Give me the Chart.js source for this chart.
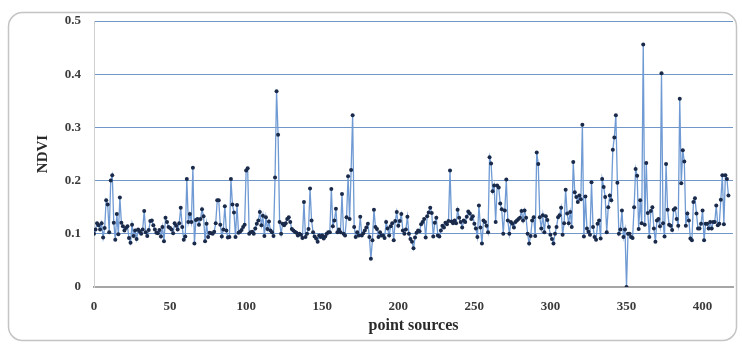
<!DOCTYPE html>
<html lang="en">
<head>
    <meta charset="UTF-8">
    <title>NDVI of point sources</title>
    <script src="https://cdn.jsdelivr.net/npm/chart.js"></script>
    <style>
        html, body { margin: 0; padding: 0; background: #fff; }
        #wrap { width: 742px; height: 344px; position: relative; }
    </style>
</head>
<body>
<div id="wrap">
    <canvas id="ndviChart"></canvas>
</div>
<script>
    // NDVI per point source (index = point source number)
    var ndvi = [
        0.100, 0.108, 0.120, 0.116, 0.108, 0.120, 0.093, 0.111, 0.163, 0.155,
        0.103, 0.200, 0.210, 0.121, 0.089, 0.137, 0.099, 0.168, 0.121, 0.114,
        0.106, 0.111, 0.114, 0.092, 0.083, 0.117, 0.096, 0.106, 0.090, 0.108,
        0.105, 0.100, 0.108, 0.143, 0.103, 0.096, 0.107, 0.124, 0.125, 0.116,
        0.108, 0.102, 0.101, 0.107, 0.095, 0.113, 0.086, 0.130, 0.122, 0.113,
        0.111, 0.108, 0.101, 0.120, 0.115, 0.108, 0.120, 0.149, 0.113, 0.089,
        0.095, 0.203, 0.122, 0.137, 0.122, 0.224, 0.082, 0.126, 0.128, 0.117,
        0.128, 0.146, 0.133, 0.086, 0.119, 0.094, 0.102, 0.101, 0.100, 0.104,
        0.120, 0.163, 0.163, 0.117, 0.095, 0.108, 0.152, 0.106, 0.093, 0.094,
        0.203, 0.155, 0.140, 0.094, 0.154, 0.102, 0.104, 0.107, 0.113, 0.117,
        0.219, 0.223, 0.100, 0.103, 0.104, 0.100, 0.110, 0.119, 0.125, 0.141,
        0.116, 0.134, 0.096, 0.131, 0.109, 0.123, 0.106, 0.103, 0.096, 0.206,
        0.368, 0.286, 0.122, 0.100, 0.119, 0.116, 0.120, 0.128, 0.131, 0.122,
        0.109, 0.106, 0.104, 0.102, 0.097, 0.100, 0.098, 0.092, 0.160, 0.094,
        0.100, 0.109, 0.185, 0.125, 0.103, 0.095, 0.091, 0.085, 0.097, 0.094,
        0.097, 0.091, 0.095, 0.100, 0.103, 0.103, 0.184, 0.114, 0.125, 0.147,
        0.103, 0.108, 0.103, 0.175, 0.100, 0.097, 0.131, 0.208, 0.128, 0.220,
        0.323, 0.113, 0.094, 0.103, 0.097, 0.132, 0.097, 0.101, 0.106, 0.112,
        0.119, 0.094, 0.053, 0.088, 0.145, 0.113, 0.109, 0.094, 0.103, 0.097,
        0.097, 0.092, 0.122, 0.110, 0.097, 0.114, 0.120, 0.088, 0.124, 0.141,
        0.115, 0.124, 0.137, 0.106, 0.100, 0.108, 0.132, 0.100, 0.090, 0.085,
        0.073, 0.093, 0.102, 0.106, 0.105, 0.118, 0.122, 0.128, 0.093, 0.133,
        0.140, 0.149, 0.139, 0.095, 0.121, 0.130, 0.097, 0.095, 0.106, 0.115,
        0.112, 0.121, 0.118, 0.124, 0.219, 0.123, 0.120, 0.125, 0.120, 0.145,
        0.130, 0.122, 0.112, 0.125, 0.122, 0.132, 0.142, 0.138, 0.128, 0.133,
        0.119, 0.110, 0.094, 0.153, 0.112, 0.082, 0.125, 0.122, 0.115, 0.103,
        0.244, 0.232, 0.180, 0.191, 0.122, 0.191, 0.187, 0.157, 0.146, 0.100,
        0.144, 0.202, 0.125, 0.100, 0.122, 0.119, 0.112, 0.122, 0.125, 0.128,
        0.130, 0.143, 0.125, 0.144, 0.130, 0.100, 0.082, 0.096, 0.125, 0.131,
        0.096, 0.253, 0.231, 0.131, 0.110, 0.135, 0.103, 0.133, 0.126, 0.113,
        0.098, 0.090, 0.082, 0.100, 0.113, 0.131, 0.135, 0.149, 0.098, 0.120,
        0.183, 0.138, 0.120, 0.141, 0.113, 0.235, 0.178, 0.169, 0.160, 0.172,
        0.165, 0.305, 0.095, 0.170, 0.110, 0.104, 0.098, 0.197, 0.113, 0.094,
        0.089, 0.119, 0.125, 0.091, 0.203, 0.188, 0.169, 0.103, 0.150, 0.172,
        0.163, 0.258, 0.281, 0.323, 0.196, 0.100, 0.108, 0.144, 0.094, 0.108,
        0.000, 0.100, 0.100, 0.094, 0.092, 0.150, 0.222, 0.209, 0.109, 0.163,
        0.120, 0.456, 0.117, 0.233, 0.139, 0.094, 0.143, 0.150, 0.110, 0.085,
        0.125, 0.128, 0.114, 0.402, 0.120, 0.095, 0.231, 0.145, 0.117, 0.115,
        0.107, 0.145, 0.148, 0.128, 0.115, 0.354, 0.195, 0.257, 0.236, 0.115,
        0.138, 0.125, 0.091, 0.088, 0.160, 0.167, 0.138, 0.110, 0.110, 0.119,
        0.144, 0.088, 0.119, 0.119, 0.110, 0.122, 0.110, 0.122, 0.122, 0.153,
        0.116, 0.119, 0.164, 0.210, 0.118, 0.210, 0.203, 0.172
    ];
    var xMax = 420;
    var xStep = 50;
    var yMax = 0.5;
    var yStep = 0.1;

    var points = [];
    for (var i = 0; i < ndvi.length; i++) {
        points.push({x: i, y: ndvi[i]});
    }

    var serif = "'Liberation Serif', 'Times New Roman', serif";

    // rounded frame round the whole figure
    var framePlugin = {
        id: 'frame',
        beforeDraw: function(chart) {
            var c = chart.ctx;
            c.save();
            c.fillStyle = '#ffffff';
            c.fillRect(0, 0, chart.width, chart.height);
            c.strokeStyle = '#c4c4c4';
            c.lineWidth = 1.5;
            c.beginPath();
            c.roundRect(8.5, 12.5, 728, 328, 14);
            c.stroke();
            c.restore();
        }
    };

    var ctx = document.getElementById('ndviChart').getContext('2d');
    var config = {
        type: 'scatter',
        data: {
            datasets: [{
                data: points,
                showLine: true,
                borderColor: '#6f9ad3',
                borderWidth: 1.3,
                pointRadius: 2,
                pointBackgroundColor: '#1a2a4a',
                pointBorderWidth: 0,
                pointHoverRadius: 2
            }]
        },
        options: {
            responsive: true,
            maintainAspectRatio: false,
            animation: false,
            devicePixelRatio: 1,
            layout: {
                padding: {left: 30, top: 21, right: 9, bottom: 5}
            },
            plugins: {
                legend: {display: false},
                tooltip: {enabled: false}
            },
            scales: {
                x: {
                    type: 'linear',
                    min: 0,
                    max: xMax,
                    afterFit: function(scale) { scale.height = 52; },
                    ticks: {
                        stepSize: xStep,
                        includeBounds: false,
                        padding: 12,
                        color: '#3a3a3a',
                        font: {family: serif, size: 13, weight: 'bold'}
                    },
                    grid: {color: 'transparent', drawTicks: false},
                    border: {color: '#a6a6a6', width: 2},
                    title: {
                        display: true,
                        text: 'point sources',
                        color: '#2a2a2a',
                        font: {family: serif, size: 16, weight: 'bold'}
                    }
                },
                y: {
                    min: 0,
                    max: yMax,
                    afterFit: function(scale) { scale.width = 64; },
                    ticks: {
                        stepSize: yStep,
                        padding: 13,
                        color: '#3a3a3a',
                        font: {family: serif, size: 13, weight: 'bold'},
                        callback: function(v) { return Math.round(v * 10) / 10; }
                    },
                    grid: {
                        drawTicks: false,
                        lineWidth: 1,
                        color: function(c) { return c.tick && c.tick.value === 0 ? 'transparent' : '#7196c8'; }
                    },
                    border: {color: '#cfcfcf', width: 1},
                    title: {
                        display: true,
                        text: 'NDVI',
                        color: '#2a2a2a',
                        font: {family: serif, size: 15, weight: 'bold'}
                    }
                }
            }
        },
        plugins: [framePlugin]
    };
    window.ndviChart = new Chart(ctx, config);
</script>
</body>
</html>
